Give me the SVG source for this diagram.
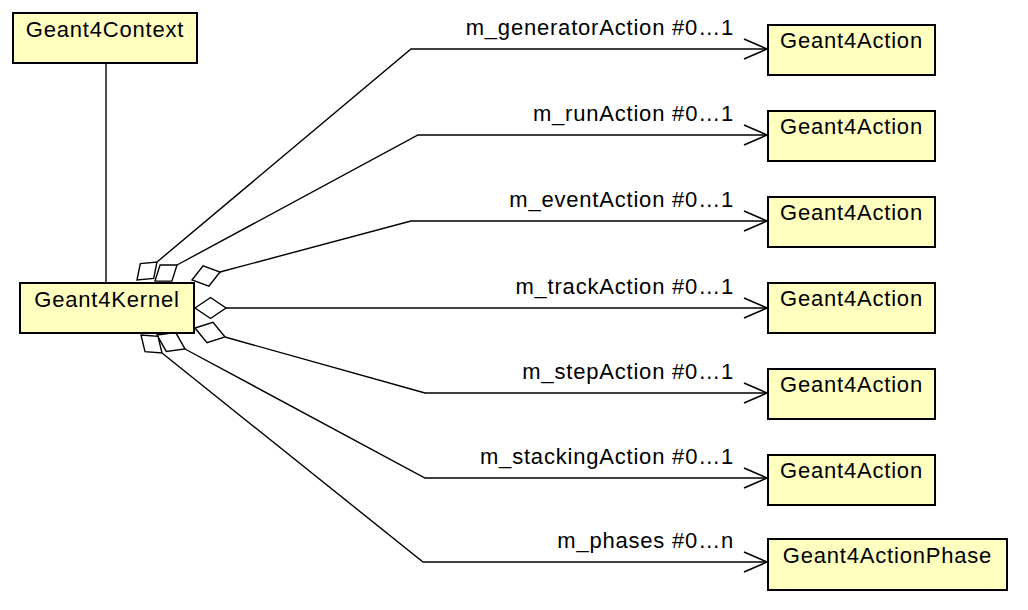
<svg xmlns="http://www.w3.org/2000/svg" width="1028" height="610" viewBox="0 0 1028 610">
<defs>
<style>
.box{fill:#ffffc0;stroke:#000;stroke-width:2}
.t{font-family:"Liberation Sans",Arial,sans-serif;font-size:22px;letter-spacing:0.8px;fill:#000}
.nm{text-anchor:middle}
.lbl{text-anchor:end}
.c{fill:none;stroke:#000;stroke-width:1.4}
.d{fill:#fff;stroke:#000;stroke-width:1.4}
</style>
<marker id="arr" markerUnits="userSpaceOnUse" markerWidth="30" markerHeight="26" refX="24" refY="11" orient="auto">
<path d="M1,1 L24,11 L1,21" fill="none" stroke="#000" stroke-width="1.6"/>
</marker>
</defs>
<rect width="1028" height="610" fill="#fff"/>
<g id="connectors">
<line class="c" x1="106" y1="63" x2="106" y2="283"/>
<polyline class="c" points="157,262 411,49 767,49" marker-end="url(#arr)"/>
<polyline class="c" points="177,265 418,135 767,135" marker-end="url(#arr)"/>
<polyline class="c" points="220,272 411,221 767,221" marker-end="url(#arr)"/>
<polyline class="c" points="226,308 767,308" marker-end="url(#arr)"/>
<polyline class="c" points="225,337 425,393 767,393" marker-end="url(#arr)"/>
<polyline class="c" points="185,349 425,478 767,478" marker-end="url(#arr)"/>
<polyline class="c" points="162,353 423,562 767,562" marker-end="url(#arr)"/>
<polygon class="d" points="137,280 140.3,263.6 157,262 153.7,278.4"/>
<polygon class="d" points="155,281 160.1,264.9 177,265 171.9,281.1"/>
<polygon class="d" points="192,280 203.1,265.9 220,272 208.9,286.1"/>
<polygon class="d" points="195,308 210.5,297.5 226,308 210.5,318.5"/>
<polygon class="d" points="195,328 213,322.4 225,337 207,342.6"/>
<polygon class="d" points="157,335 175.7,332.6 185,349 166.3,351.4"/>
<polygon class="d" points="141,335 158,336.4 162,353 145,351.6"/>
<text class="t lbl" x="734" y="35">m_generatorAction #0…1</text>
<text class="t lbl" x="734" y="121">m_runAction #0…1</text>
<text class="t lbl" x="734" y="207">m_eventAction #0…1</text>
<text class="t lbl" x="734" y="294">m_trackAction #0…1</text>
<text class="t lbl" x="734" y="379">m_stepAction #0…1</text>
<text class="t lbl" x="734" y="464">m_stackingAction #0…1</text>
<text class="t lbl" x="734" y="548">m_phases #0…n</text>
</g>
<g id="Geant4Context">
<rect class="box" x="13" y="13" width="184" height="50"/>
<text class="t nm" x="105" y="37">Geant4Context</text>
</g>
<g id="Geant4Kernel">
<rect class="box" x="20" y="283" width="174" height="50"/>
<text class="t nm" x="107" y="307">Geant4Kernel</text>
</g>
<g id="Geant4Action_generator">
<rect class="box" x="768" y="25" width="167" height="50"/>
<text class="t nm" x="851.5" y="48">Geant4Action</text>
</g>
<g id="Geant4Action_run">
<rect class="box" x="768" y="111" width="167" height="50"/>
<text class="t nm" x="851.5" y="134">Geant4Action</text>
</g>
<g id="Geant4Action_event">
<rect class="box" x="768" y="197" width="167" height="50"/>
<text class="t nm" x="851.5" y="220">Geant4Action</text>
</g>
<g id="Geant4Action_track">
<rect class="box" x="768" y="283" width="167" height="50"/>
<text class="t nm" x="851.5" y="306">Geant4Action</text>
</g>
<g id="Geant4Action_step">
<rect class="box" x="768" y="369" width="167" height="50"/>
<text class="t nm" x="851.5" y="392">Geant4Action</text>
</g>
<g id="Geant4Action_stacking">
<rect class="box" x="768" y="455" width="167" height="50"/>
<text class="t nm" x="851.5" y="478">Geant4Action</text>
</g>
<g id="Geant4ActionPhase">
<rect class="box" x="768" y="539" width="239" height="51"/>
<text class="t nm" x="887.5" y="563">Geant4ActionPhase</text>
</g>
</svg>
